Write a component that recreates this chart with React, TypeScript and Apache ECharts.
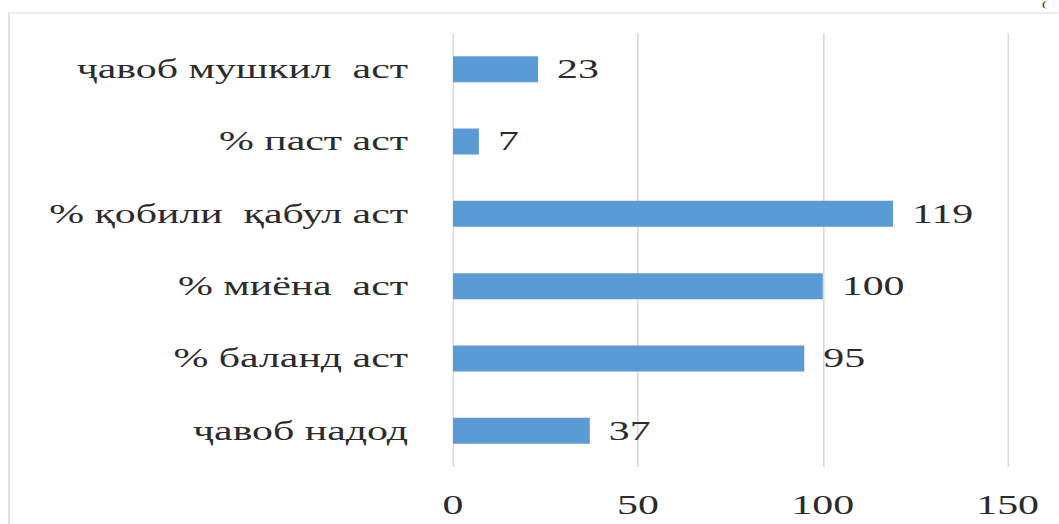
import React, { useEffect, useRef } from "react";
import * as echarts from "echarts";

const categories: string[] = [
  "ҷавоб мушкил  аст",
  "% паст аст",
  "% қобили  қабул аст",
  "% миёна  аст",
  "% баланд аст",
  "ҷавоб надод",
];
const values: number[] = [23, 7, 119, 100, 95, 37];
const axisTicks: number[] = [0, 50, 100, 150];

const SX = 1.55;
const W = 1059;
const H = 524;
const FONT = "'Liberation Serif', 'Times New Roman', serif";

export default function App() {
  const ref = useRef<HTMLDivElement>(null);
  useEffect(() => {
    if (!ref.current) return;
    const chart = echarts.init(ref.current, undefined, { renderer: "svg" });
    const lw = W / SX;
    chart.setOption({
      animation: false,
      backgroundColor: "#ffffff",
      grid: {
        left: 453 / SX,
        right: lw - 1008 / SX,
        top: 33,
        bottom: H - 467,
        containLabel: false,
      },
      xAxis: {
        type: "value",
        min: axisTicks[0],
        max: axisTicks[axisTicks.length - 1],
        interval: axisTicks[1] - axisTicks[0],
        axisLine: { show: false },
        axisTick: { show: false },
        splitLine: { show: true, lineStyle: { color: "#d9d9d9", width: 1 } },
        axisLabel: {
          margin: 25,
          fontFamily: FONT,
          fontSize: 27,
          color: "#2b2b2b",
        },
      },
      yAxis: {
        type: "category",
        data: categories,
        inverse: true,
        axisLine: { show: false },
        axisTick: { show: false },
        splitLine: { show: false },
        axisLabel: {
          margin: 45 / SX,
          fontFamily: FONT,
          fontSize: 27,
          color: "#2b2b2b",
        },
      },
      series: [
        {
          type: "bar",
          data: values,
          barWidth: 26,
          itemStyle: { color: "#5b9bd5" },
          label: {
            show: true,
            position: "right",
            distance: 19 / SX,
            fontFamily: FONT,
            fontSize: 27,
            color: "#2b2b2b",
          },
        },
      ],
      graphic: [
        {
          type: "rect",
          shape: { x: 9 / SX, y: 13, width: 900, height: 700 },
          style: { fill: "none", stroke: "#d9d9d9", lineWidth: 1 },
          silent: true,
          z: -1,
        },
        {
          type: "text",
          x: 1042 / SX,
          y: 0,
          style: { text: "(", fontFamily: FONT, fontSize: 9, fill: "#222" },
          silent: true,
        },
      ],
    });
    return () => chart.dispose();
  }, []);
  return (
    <div
      style={{
        position: "fixed",
        left: 0,
        top: 0,
        width: W,
        height: H,
        overflow: "hidden",
        background: "#ffffff",
      }}
    >
      <div
        ref={ref}
        style={{
          width: W / SX,
          height: H,
          transform: `scaleX(${SX})`,
          transformOrigin: "0 0",
        }}
      />
    </div>
  );
}
